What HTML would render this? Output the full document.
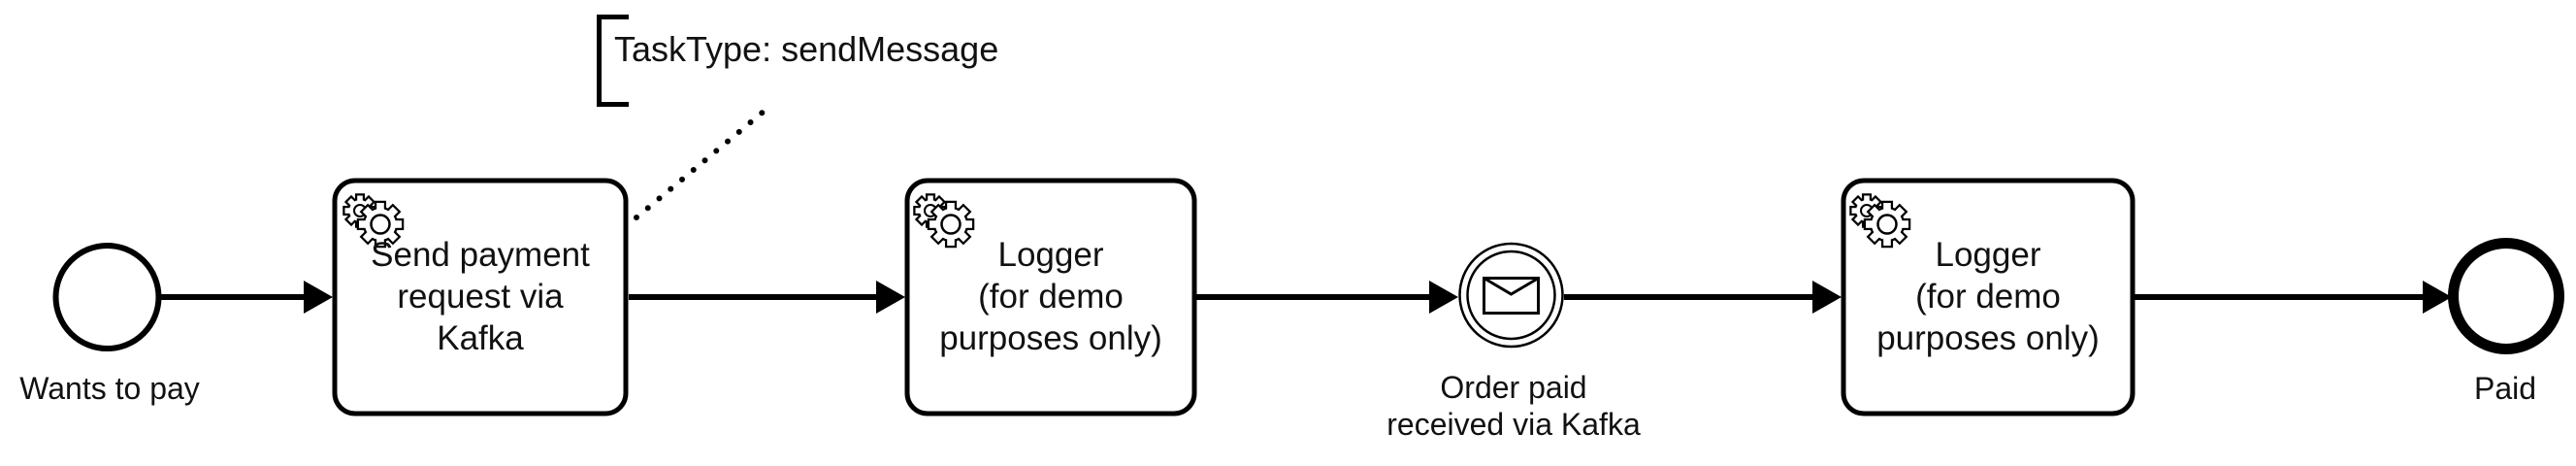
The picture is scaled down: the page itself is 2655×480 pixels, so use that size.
<!DOCTYPE html>
<html><head><meta charset="utf-8"><style>
html,body{margin:0;padding:0;background:#fff;width:2655px;height:480px;overflow:hidden}
svg{display:block}
text{font-family:"Liberation Sans",Arial,sans-serif;fill:#111}
</style></head><body>
<svg width="2655" height="480" viewBox="0 0 2655 480" xmlns="http://www.w3.org/2000/svg">
<defs>
<g id="bg">
  <circle r="11"/>
  <rect x="-2.8" y="-15.5" width="5.6" height="31"/>
  <rect x="-2.8" y="-15.5" width="5.6" height="31" transform="rotate(45)"/>
  <rect x="-2.8" y="-15.5" width="5.6" height="31" transform="rotate(90)"/>
  <rect x="-2.8" y="-15.5" width="5.6" height="31" transform="rotate(135)"/>
</g>
<g id="fg">
  <circle r="16"/>
  <rect x="-3.8" y="-22" width="7.6" height="44"/>
  <rect x="-3.8" y="-22" width="7.6" height="44" transform="rotate(45)"/>
  <rect x="-3.8" y="-22" width="7.6" height="44" transform="rotate(90)"/>
  <rect x="-3.8" y="-22" width="7.6" height="44" transform="rotate(135)"/>
</g>
<g id="gears">
  <use href="#bg" x="0" y="0" fill="#000" stroke="#000" stroke-width="4.5"/>
  <use href="#bg" x="0" y="0" fill="#fff"/>
  <circle cx="0" cy="0" r="6" fill="none" stroke="#000" stroke-width="2"/>
  <use href="#fg" x="21" y="14" fill="#000" stroke="#000" stroke-width="4.5"/>
  <use href="#fg" x="21" y="14" fill="#fff"/>
  <circle cx="21" cy="14" r="9.5" fill="none" stroke="#000" stroke-width="2.5"/>
</g>
</defs>

<!-- annotation -->
<path d="M648 17.5 H617.5 V107.5 H648" fill="none" stroke="#000" stroke-width="5"/>
<text x="633" y="63" font-size="36">TaskType: sendMessage</text>
<line x1="656" y1="224" x2="788" y2="114" stroke="#000" stroke-width="6" stroke-linecap="round" stroke-dasharray="0 15.3"/>

<!-- start event -->
<circle cx="110.5" cy="306" r="53" fill="#fff" stroke="#000" stroke-width="6"/>
<text x="113" y="411" font-size="32" text-anchor="middle">Wants to pay</text>

<!-- flows -->
<g stroke="#000" stroke-width="6">
<line x1="166" y1="306" x2="316" y2="306"/>
<line x1="648" y1="306" x2="905" y2="306"/>
<line x1="1233" y1="306" x2="1475" y2="306"/>
<line x1="1612" y1="306" x2="1870" y2="306"/>
<line x1="2200" y1="306" x2="2500" y2="306"/>
</g>
<g fill="#000">
<polygon points="313,289 343,306 313,323"/>
<polygon points="903,289 933,306 903,323"/>
<polygon points="1473,289 1503,306 1473,323"/>
<polygon points="1868,289 1898,306 1868,323"/>
<polygon points="2497,289 2527,306 2497,323"/>
</g>

<!-- task 1 -->
<rect x="345" y="186" width="300" height="240" rx="21" fill="#fff" stroke="#000" stroke-width="5"/>
<use href="#gears" x="371" y="217"/>
<text font-size="35" text-anchor="middle"><tspan x="495" y="274">Send payment</tspan><tspan x="495" y="317">request via</tspan><tspan x="495" y="360">Kafka</tspan></text>

<!-- task 2 -->
<rect x="935" y="186" width="296" height="240" rx="21" fill="#fff" stroke="#000" stroke-width="5"/>
<use href="#gears" x="959" y="217"/>
<text font-size="35" text-anchor="middle"><tspan x="1083" y="274">Logger</tspan><tspan x="1083" y="317">(for demo</tspan><tspan x="1083" y="360">purposes only)</tspan></text>

<!-- intermediate message event -->
<circle cx="1557.5" cy="304" r="53" fill="#fff" stroke="#000" stroke-width="2.5"/>
<circle cx="1557.5" cy="304" r="45" fill="none" stroke="#000" stroke-width="2.5"/>
<rect x="1529.5" y="286.5" width="56" height="36" fill="#fff" stroke="#000" stroke-width="3"/>
<polyline points="1529.5,286.5 1557.5,303 1585.5,286.5" fill="none" stroke="#000" stroke-width="3"/>
<text font-size="32" text-anchor="middle"><tspan x="1560" y="410">Order paid</tspan><tspan x="1560" y="448">received via Kafka</tspan></text>

<!-- task 3 -->
<rect x="1900" y="186" width="298" height="240" rx="21" fill="#fff" stroke="#000" stroke-width="5"/>
<use href="#gears" x="1924" y="217"/>
<text font-size="35" text-anchor="middle"><tspan x="2049" y="274">Logger</tspan><tspan x="2049" y="317">(for demo</tspan><tspan x="2049" y="360">purposes only)</tspan></text>

<!-- end event -->
<circle cx="2583" cy="305" r="54.5" fill="#fff" stroke="#000" stroke-width="11"/>
<text x="2582" y="411" font-size="32" text-anchor="middle">Paid</text>
</svg>
</body></html>
